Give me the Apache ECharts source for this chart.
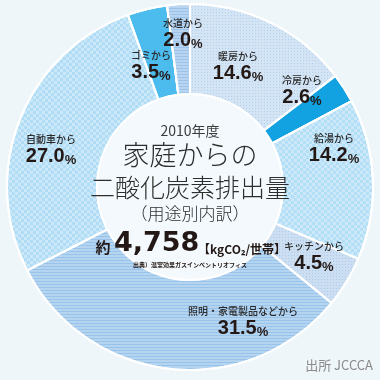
<!DOCTYPE html>
<html>
<head>
<meta charset="utf-8">
<script src="https://cdn.jsdelivr.net/npm/echarts@6/dist/echarts.min.js"></script>
<style>
html,body{margin:0;padding:0;background:#eff6f9;}
#c{width:380px;height:380px;}
</style>
</head>
<body>
<div id="c"></div>
<script>
// ---- data ----
const categories = ['暖房', '冷房', '給湯', 'キッチン', '照明・家電製品など', '自動車', 'ゴミ', '水道'];
const shares = [14.6, 2.6, 14.2, 4.5, 31.5, 27.0, 3.5, 2.0];
const surveyYear = '2010年度';
const totalPerHousehold = 4758;
const unitText = '【kgCO₂/世帯】';
const sourceNote = '出典）温室効果ガスインベントリオフィス';
const creditText = '出所 JCCCA';

// ---- styles ----
const sliceColors = ['#d3e4f5', '#12a2e2', '#b2def6', '#cbdef2', '#98c3ea', '#b0dcf5', '#4cbcee', '#9cc4ea'];
const dots = {symbol: 'rect', symbolSize: 1, color: 'rgba(110,150,205,0.28)', dashArrayX: [1, 2], dashArrayY: [1, 2]};
const checker = {symbol: 'rect', symbolSize: 1, color: 'rgba(255,255,255,0.35)', dashArrayX: [[3, 3], [0, 3, 3, 0]], dashArrayY: [3, 0]};
const stripes = {symbol: 'rect', symbolSize: 1, color: 'rgba(255,255,255,0.28)', dashArrayX: [1, 0], dashArrayY: [2, 1]};
const sliceDecals = [dots, null, checker, dots, stripes, checker, null, stripes];
const labelSpots = [[238, 66], [302, 90], [334, 148], [314, 256], [243, 321], [51, 149], [151, 65], [183, 33]];

const CX = 190, CY = 187, R0 = 93, R1 = 183;
const JP = '"Noto Sans CJK JP", "Noto Sans", sans-serif';

const chart = echarts.init(document.getElementById('c'), null, {renderer: 'canvas'});

const pieData = categories.map((name, i) => ({
  name: name,
  value: shares[i],
  itemStyle: {color: sliceColors[i], decal: sliceDecals[i] || {symbol: 'none'}}
}));

chart.setOption({
  backgroundColor: '#eff6f9',
  animation: false,
  series: [{
    type: 'pie',
    center: [CX, CY],
    radius: [R0, R1],
    startAngle: 90,
    clockwise: true,
    avoidLabelOverlap: false,
    silent: true,
    itemStyle: {borderColor: '#ffffff', borderWidth: 2},
    label: {
      show: true,
      position: 'inside',
      formatter: p => '{n|' + p.name + 'から}\n{v|' + p.value.toFixed(1) + '}{p|%}',
      rich: {
        n: {fontFamily: JP, fontSize: 10, fontWeight: 500, color: '#2a2a2a', lineHeight: 15, align: 'center'},
        v: {fontFamily: '"Liberation Sans", Arial, sans-serif', fontSize: 20, fontWeight: 'bold', color: '#231815', lineHeight: 20},
        p: {fontFamily: '"Liberation Sans", Arial, sans-serif', fontSize: 13, fontWeight: 'bold', color: '#231815', lineHeight: 20, verticalAlign: 'bottom'}
      }
    },
    labelLine: {show: false},
    labelLayout: params => {
      const s = labelSpots[params.dataIndex];
      return {x: s[0], y: s[1], align: 'center', verticalAlign: 'middle'};
    },
    data: pieData,
    z: 2
  }],
  graphic: [
    {type: 'circle', shape: {cx: CX, cy: CY, r: R0 - 1}, style: {fill: '#f3f9fc'}, z: 1, silent: true},
    {type: 'text', x: CX, y: 131, z: 10, style: {text: surveyYear, font: '14px ' + JP, fill: '#3c3c3c', align: 'center', verticalAlign: 'middle'}},
    {type: 'text', x: CX, y: 155, z: 10, style: {text: '家庭からの', font: '300 27px ' + JP, fill: '#2e2e2e', align: 'center', verticalAlign: 'middle'}},
    {type: 'text', x: CX, y: 187, z: 10, style: {text: '二酸化炭素排出量', font: '300 25px ' + JP, fill: '#2e2e2e', align: 'center', verticalAlign: 'middle'}},
    {type: 'text', x: CX, y: 214, z: 10, style: {text: '（用途別内訳）', font: '300 17px ' + JP, fill: '#2e2e2e', align: 'center', verticalAlign: 'middle'}},
    {type: 'text', x: 103, y: 247, z: 10, style: {text: '約', font: 'bold 15px ' + JP, fill: '#231815', align: 'center', verticalAlign: 'middle'}},
    {type: 'text', x: 114, y: 244, z: 10, style: {text: totalPerHousehold.toLocaleString('en-US'), font: 'bold 27px "DejaVu Sans", sans-serif', fill: '#231815', align: 'left', verticalAlign: 'middle'}},
    {type: 'text', x: 198, y: 249, z: 10, style: {text: unitText, font: 'bold 12px ' + JP, fill: '#231815', align: 'left', verticalAlign: 'middle'}},
    {type: 'text', x: CX, y: 265, z: 10, style: {text: sourceNote, font: 'bold 6px ' + JP, fill: '#231815', align: 'center', verticalAlign: 'middle'}},
    {type: 'text', x: 373, y: 365, z: 10, style: {text: creditText, font: '13px ' + JP, fill: '#8a8a8a', align: 'right', verticalAlign: 'middle'}}
  ]
});
</script>
</body>
</html>
